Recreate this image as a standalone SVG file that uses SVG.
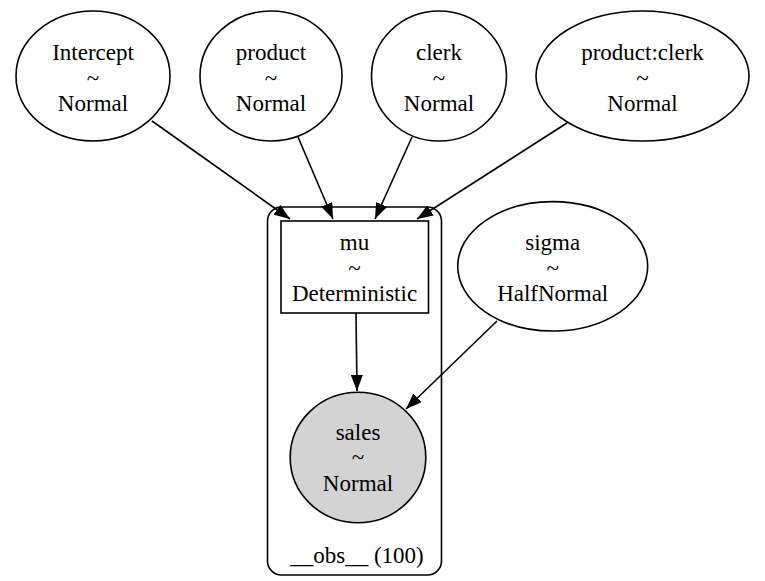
<svg xmlns="http://www.w3.org/2000/svg" width="765" height="581" viewBox="0 0 765 581">
<style>
.n{fill:#fff;stroke:#000;stroke-width:1.6}
.t{font-size:23px;text-anchor:middle;fill:#000}
.e{fill:none;stroke:#000;stroke-width:1.6;marker-end:url(#ah)}
</style>
<defs>
<marker id="ah" viewBox="0 0 16 12" markerWidth="16" markerHeight="12" refX="16" refY="6" markerUnits="userSpaceOnUse" orient="auto">
<path d="M0,0 L16,6 L0,12 Z" fill="#000"/>
</marker>
</defs>
<rect width="765" height="581" fill="#fff"/>
<g font-family="Liberation Serif, DejaVu Serif, serif">
<g id="plate">
<rect x="267.5" y="207" width="174" height="368" rx="14" ry="14" fill="none" stroke="#000" stroke-width="1.6"/>
<text class="t" x="357" y="563">__obs__ (100)</text>
</g>
<g id="connectors">
<line class="e" x1="152" y1="121" x2="290" y2="219"/>
<line class="e" x1="298" y1="137" x2="333" y2="219"/>
<line class="e" x1="412" y1="137" x2="375" y2="219"/>
<line class="e" x1="567" y1="123" x2="417" y2="219"/>
<line class="e" x1="356" y1="313" x2="357" y2="391"/>
<line class="e" x1="497" y1="321" x2="406" y2="409"/>
</g>
<g id="Intercept">
<ellipse class="n" cx="93" cy="76" rx="77" ry="65"/>
<text class="t" x="93" y="60">Intercept</text>
<text class="t" x="93" y="85.5">~</text>
<text class="t" x="93" y="111">Normal</text>
</g>
<g id="product">
<ellipse class="n" cx="271" cy="76" rx="71" ry="65"/>
<text class="t" x="271" y="60">product</text>
<text class="t" x="271" y="85.5">~</text>
<text class="t" x="271" y="111">Normal</text>
</g>
<g id="clerk">
<ellipse class="n" cx="439" cy="76" rx="67.5" ry="65"/>
<text class="t" x="439" y="60">clerk</text>
<text class="t" x="439" y="85.5">~</text>
<text class="t" x="439" y="111">Normal</text>
</g>
<g id="product_clerk">
<ellipse class="n" cx="642.5" cy="76" rx="106.5" ry="65"/>
<text class="t" x="642.5" y="60">product:clerk</text>
<text class="t" x="642.5" y="85.5">~</text>
<text class="t" x="642.5" y="111">Normal</text>
</g>
<g id="mu">
<rect class="n" x="281" y="221" width="147.5" height="92"/>
<text class="t" x="354.5" y="250">mu</text>
<text class="t" x="354.5" y="275.5">~</text>
<text class="t" x="354.5" y="301">Deterministic</text>
</g>
<g id="sigma">
<ellipse class="n" cx="552.7" cy="266.3" rx="95" ry="64.7"/>
<text class="t" x="552.7" y="250">sigma</text>
<text class="t" x="552.7" y="275.5">~</text>
<text class="t" x="552.7" y="301">HalfNormal</text>
</g>
<g id="sales">
<ellipse cx="358" cy="457.5" rx="67.8" ry="65.2" fill="#d3d3d3" stroke="#000" stroke-width="1.6"/>
<text class="t" x="358" y="439.5">sales</text>
<text class="t" x="358" y="465">~</text>
<text class="t" x="358" y="491">Normal</text>
</g>
</g>
</svg>
